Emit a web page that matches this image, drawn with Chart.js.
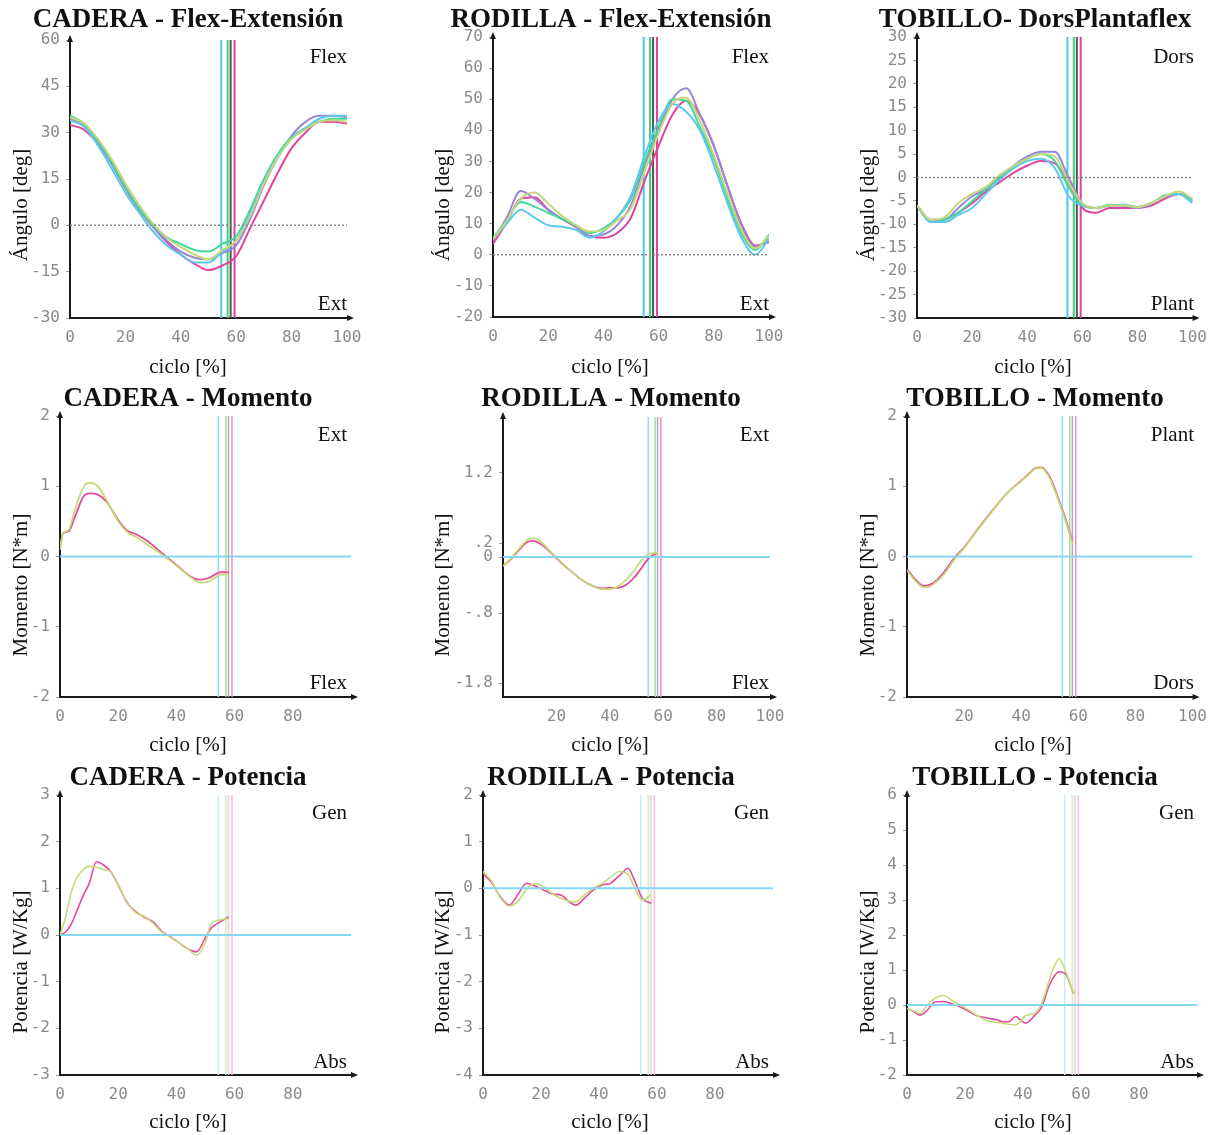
<!DOCTYPE html>
<html>
<head>
<meta charset="utf-8">
<script src="https://cdn.jsdelivr.net/npm/chart.js@4.4.0/dist/chart.umd.min.js"></script>
<style>
html, body { margin: 0; padding: 0; background: #fff; }
body { width: 1217px; height: 1135px; position: relative; overflow: hidden; }
.cell { position: absolute; }
</style>
</head>
<body>
<script>
// ciclo de marcha [%] para la fila de ángulos
const cycle = [0,5,10,15,20,25,30,35,40,45,50,55,60,65,70,75,80,85,90,95,100];

// CADERA - Flex-Extensión (5 ensayos)
const hipAngCyan    = [34,32,26,18.5,10.5,4,-2,-6.5,-9.5,-12,-12,-8.5,-5,4,14,22,28,31.5,34.5,35.5,35.5];
const hipAngPurple  = [34.5,32.5,27,20,12,5,-0.5,-5,-8.5,-10.5,-11,-9,-6.5,2,13,22,29,33.5,35.5,35.5,35];
const hipAngYellow  = [35,33,28,21.5,13.5,6.5,0.5,-4,-7,-9.5,-11,-8,-5,3,13.5,22,28,31,33.5,34,33.5];
const hipAngGreen   = [35.5,33,27.5,20.5,12.5,5.5,0,-4,-6,-8,-8.5,-6,-3.5,5,15,23,28.5,31.5,33.5,34.5,34.5];
const hipAngMagenta = [32.5,31,26.5,20,12,5,-0.5,-5.5,-9.5,-12.5,-14.5,-13,-10,-1,8,17,25,30,33.5,33.5,33];

// RODILLA - Flex-Extensión
const kneeAngCyan    = [5,10,14.5,12,9.5,9,8,5.5,7.5,12,19,32,43,48.5,46,40,29,16.5,5.5,0,5];
const kneeAngPurple  = [4.5,12,20.5,18,14.5,11.5,9,6,6.5,9.5,16,29,40,50,53.5,45,35,22,9.5,2.5,5];
const kneeAngYellow  = [5,11,18,20,16.5,12.5,9.5,7.5,8,11,15,27,39,48.5,50.5,43,32,19.5,8,2,6];
const kneeAngGreen   = [5.5,11,17,15.5,13.5,11.5,9.5,7,8.5,12,18,30,41,50,49.5,41,31,18,7,1.5,6.5];
const kneeAngMagenta = [3.5,10.5,18,18.5,14.5,11.5,9,6,5.5,7,12,24,35,45,49.5,45,35,22,10,3,4];

// TOBILLO - DorsPlantaflex
const ankleAngCyan    = [-6,-9.5,-9.5,-8,-6.5,-3.5,-0.5,2,3.5,4,2,-4,-6,-6.5,-6,-5.8,-6.3,-5.5,-4,-3.5,-5.5];
const ankleAngPurple  = [-6,-9,-9,-6.5,-4,-2.5,0,2.5,4.5,5.5,5.5,0,-5.5,-6.5,-6,-6,-6.5,-5.5,-4,-3.5,-5];
const ankleAngYellow  = [-6,-9,-8.5,-5.5,-3.5,-2,0.5,2.5,4,5,4.5,-1,-5.5,-6.5,-6,-6,-6.3,-5.5,-4,-3,-4.5];
const ankleAngGreen   = [-6,-9.5,-9,-7.5,-5,-2.5,0,2,4,5,3.5,-2,-6,-6.5,-5.8,-6,-6.3,-5.5,-3.8,-3.5,-5];
const ankleAngMagenta = [-6,-9.5,-9,-7.5,-5.5,-3,-1,1,2.5,3.5,3,-1,-6.5,-7.5,-6.5,-6.5,-6.5,-6,-4.5,-3.5,-4.5];

// Momentos
const hipMomX       = [0,1,3,5,8,10,13,16,20,23,26,30,35,40,45,48,51,54,56,58];
const hipMomYellow  = [0.1,0.33,0.38,0.65,0.98,1.05,1.0,0.8,0.5,0.35,0.28,0.17,0.03,-0.13,-0.3,-0.37,-0.36,-0.28,-0.25,-0.25];
const hipMomMagenta = [0.1,0.33,0.36,0.55,0.85,0.9,0.88,0.78,0.52,0.37,0.32,0.22,0.05,-0.12,-0.29,-0.33,-0.31,-0.24,-0.22,-0.23];

const kneeMomX       = [0,3,6,9,11,13,16,19,22,26,30,34,37,40,43,46,49,52,55,58];
const kneeMomYellow  = [-0.13,-0.02,0.12,0.24,0.27,0.25,0.15,0.03,-0.08,-0.22,-0.34,-0.42,-0.46,-0.46,-0.42,-0.33,-0.2,-0.04,0.05,0.06];
const kneeMomMagenta = [-0.13,-0.03,0.1,0.21,0.23,0.21,0.13,0.02,-0.09,-0.22,-0.34,-0.42,-0.45,-0.44,-0.44,-0.4,-0.3,-0.15,0.0,0.06];

const ankleMomX       = [0,3,6,8,10,13,17,20,25,30,35,40,43,45,47,49,51,53,55,58];
const ankleMomYellow  = [-0.2,-0.35,-0.44,-0.43,-0.37,-0.25,-0.02,0.12,0.39,0.65,0.9,1.07,1.18,1.25,1.26,1.18,1.02,0.8,0.57,0.18];
const ankleMomMagenta = [-0.18,-0.33,-0.42,-0.4,-0.35,-0.22,0.0,0.13,0.4,0.66,0.9,1.08,1.19,1.26,1.27,1.2,1.05,0.82,0.6,0.2];

// Potencias
const hipPowX       = [0,2,4,6,8,10,12.5,15,17.5,20,23,26,29,32,35,38,41,44,47,50,52,55,58];
const hipPowYellow  = [0,0.4,0.95,1.25,1.4,1.47,1.45,1.4,1.35,1.07,0.72,0.48,0.4,0.25,0.06,-0.05,-0.17,-0.3,-0.43,-0.15,0.25,0.32,0.36];
const hipPowMagenta = [0,0.07,0.25,0.55,0.85,1.1,1.57,1.5,1.35,1.07,0.7,0.5,0.38,0.28,0.08,-0.04,-0.17,-0.3,-0.36,-0.05,0.15,0.28,0.39];

const kneePowX       = [0,3,6,9,12,15,18,21,24,27,30,32,35,38,41,44,47,50,52,55,58];
const kneePowYellow  = [0.36,0.15,-0.2,-0.38,-0.28,-0.02,0.1,0.03,-0.12,-0.22,-0.28,-0.29,-0.14,0.0,0.1,0.24,0.36,0.3,0.05,-0.25,-0.14];
const kneePowMagenta = [0.32,0.12,-0.18,-0.36,-0.14,0.11,0.05,-0.04,-0.12,-0.15,-0.3,-0.36,-0.21,-0.04,0.07,0.11,0.27,0.43,0.21,-0.22,-0.32];

const anklePowX       = [0,2.5,4.5,7,9.5,12.5,16,19.5,24,28,31,33,35,37.5,39,41,44,46.5,49,51,52.5,54.5,57.5];
const anklePowYellow  = [-0.1,-0.18,-0.24,0.0,0.18,0.27,0.1,-0.05,-0.29,-0.46,-0.5,-0.52,-0.55,-0.57,-0.48,-0.3,-0.24,0.05,0.7,1.15,1.33,1.0,0.32];
const anklePowMagenta = [-0.1,-0.2,-0.29,-0.15,0.08,0.1,0.02,-0.1,-0.3,-0.38,-0.42,-0.48,-0.48,-0.33,-0.42,-0.52,-0.3,-0.05,0.55,0.85,0.95,0.9,0.32];

// despegue del pie (toe-off) [%]
const toeOffAngles = [54.6, 56.9, 58.0, 59.4];
const toeOffKinetics = [54.4, 57.0, 57.9, 59.1];

// ticks
const xTicksFull = [0,20,40,60,80,100];
const xTicksNo100 = [0,20,40,60,80];
const xTicksNo0 = [20,40,60,80,100];
const hipAngTicks = [-30,-15,0,15,30,45,60];
const kneeAngTicks = [-20,-10,0,10,20,30,40,50,60,70];
const ankleAngTicks = [-30,-25,-20,-15,-10,-5,0,5,10,15,20,25,30];
const momTicks = [-2,-1,0,1,2];
const kneeMomTicks = [1.2,0.2,0,-0.8,-1.8];
const kneeMomTickLabels = ['1.2','.2','0','-.8','-1.8'];
const hipPowTicks = [-3,-2,-1,0,1,2,3];
const kneePowTicks = [-4,-3,-2,-1,0,1,2];
const anklePowTicks = [-2,-1,0,1,2,3,4,5,6];

// ---- layout ----
const CELL_X = [[0,420],[420,845],[845,1217]];
const CELL_Y = [[0,380],[380,758],[758,1135]];
const TITLE_X = [188,611,1035], YTITLE_X = [21,443,868], XTITLE_X = [188,610,1033], CORNER_X = [347,769,1194];
const TITLE_Y = [20,399,778], YTITLE_Y = [205,585,962], XTITLE_Y = [367,745,1122], TOP_Y = [57,435,813], BOT_Y = [304,683,1062];
const PLOT = [[70,40,347,318],[493,37,769,317],[917,37,1196,318],
              [60,416,351,697],[503,417,770,697],[907,416,1194,697],
              [60,795,351,1075],[483,795,773,1075],[907,795,1197,1075]];

const C = {cyan:'#5cc8ee', purple:'#9a86d6', yellow:'#c6d67a', green:'#3fd99c', magenta:'#e2449c'};
const K = {yellow:'#c4dc78', magenta:'#e6479e'};

const angSeries = (a,b,c,d,e) => [
  {xs:cycle, ys:c, color:C.yellow}, {xs:cycle, ys:a, color:C.cyan},
  {xs:cycle, ys:d, color:C.green}, {xs:cycle, ys:b, color:C.purple},
  {xs:cycle, ys:e, color:C.magenta}];
const kinSeries = (xs, y, m) => [{xs, ys:y, color:K.yellow}, {xs, ys:m, color:K.magenta}];

const panels = [
  {title:'CADERA - Flex-Extensión', yTitle:'Ángulo [deg]', top:'Flex', bot:'Ext', min:-30, max:60, yTicks:hipAngTicks, xTicks:xTicksFull,
   curves: angSeries(hipAngCyan,hipAngPurple,hipAngYellow,hipAngGreen,hipAngMagenta)},
  {title:'RODILLA - Flex-Extensión', yTitle:'Ángulo [deg]', top:'Flex', bot:'Ext', min:-20, max:70, yTicks:kneeAngTicks, xTicks:xTicksFull,
   curves: angSeries(kneeAngCyan,kneeAngPurple,kneeAngYellow,kneeAngGreen,kneeAngMagenta)},
  {title:'TOBILLO- DorsPlantaflex', yTitle:'Ángulo [deg]', top:'Dors', bot:'Plant', min:-30, max:30, yTicks:ankleAngTicks, xTicks:xTicksFull,
   curves: angSeries(ankleAngCyan,ankleAngPurple,ankleAngYellow,ankleAngGreen,ankleAngMagenta)},
  {title:'CADERA - Momento', yTitle:'Momento [N*m]', top:'Ext', bot:'Flex', min:-2, max:2, yTicks:momTicks, xTicks:xTicksNo100,
   curves: kinSeries(hipMomX, hipMomYellow, hipMomMagenta)},
  {title:'RODILLA - Momento', yTitle:'Momento [N*m]', top:'Ext', bot:'Flex', min:-2, max:2, yTicks:kneeMomTicks, yLabels:kneeMomTickLabels, xTicks:xTicksNo0,
   curves: kinSeries(kneeMomX, kneeMomYellow, kneeMomMagenta)},
  {title:'TOBILLO - Momento', yTitle:'Momento [N*m]', top:'Plant', bot:'Dors', min:-2, max:2, yTicks:momTicks, xTicks:xTicksNo0,
   curves: kinSeries(ankleMomX, ankleMomYellow, ankleMomMagenta)},
  {title:'CADERA - Potencia', yTitle:'Potencia [W/Kg]', top:'Gen', bot:'Abs', min:-3, max:3, yTicks:hipPowTicks, xTicks:xTicksNo100,
   curves: kinSeries(hipPowX, hipPowYellow, hipPowMagenta)},
  {title:'RODILLA - Potencia', yTitle:'Potencia [W/Kg]', top:'Gen', bot:'Abs', min:-4, max:2, yTicks:kneePowTicks, xTicks:xTicksNo100,
   curves: kinSeries(kneePowX, kneePowYellow, kneePowMagenta)},
  {title:'TOBILLO - Potencia', yTitle:'Potencia [W/Kg]', top:'Gen', bot:'Abs', min:-2, max:6, yTicks:anklePowTicks, xTicks:xTicksNo100,
   curves: kinSeries(anklePowX, anklePowYellow, anklePowMagenta)}
];

// style per row: toe-off lines and zero line
const ROW_STYLE = [
  {toe:toeOffAngles, toeColors:['#4fc7ee','#3ccf8a','#4d5a50','#e0409a'], toeW:2, zero:'#8a8a8a', zeroW:1.5, zeroDash:[2,2], lw:2},
  {toe:toeOffKinetics, toeColors:['#8fdcf4','#9ee0a0','#b8a6b4','#f08cc0'], toeW:1.5, zero:'#86d6f2', zeroW:2, zeroDash:[], lw:1.8},
  {toe:toeOffKinetics, toeColors:['#c6eefa','#cdeec6','#e8d0dc','#f6bcd8'], toeW:1.5, zero:'#86d6f2', zeroW:2, zeroDash:[], lw:1.6}
];

const decor = {
  id: 'decor',
  afterDraw(chart, args, o) {
    const ctx = chart.ctx;
    const {left, top, right, bottom} = chart.chartArea;
    ctx.save();
    // arrow heads
    ctx.fillStyle = '#1a1a1a';
    ctx.beginPath(); ctx.moveTo(left, top - 5); ctx.lineTo(left - 3, top + 2); ctx.lineTo(left + 3, top + 2); ctx.fill();
    ctx.beginPath(); ctx.moveTo(right + 7, bottom); ctx.lineTo(right, bottom - 3); ctx.lineTo(right, bottom + 3); ctx.fill();
    ctx.fillStyle = '#111';
    ctx.textBaseline = 'middle';
    ctx.font = 'bold 27px "Liberation Serif", serif';
    ctx.textAlign = 'center';
    ctx.fillText(o.title, o.titleX, o.titleY);
    ctx.font = '21px "Liberation Serif", serif';
    ctx.fillText(o.xTitle, o.xTitleX, o.xTitleY);
    ctx.textAlign = 'right';
    ctx.fillText(o.top, o.cornerX, o.topY);
    ctx.fillText(o.bot, o.cornerX, o.botY);
    ctx.translate(o.yTitleX, o.yTitleY);
    ctx.rotate(-Math.PI / 2);
    ctx.textAlign = 'center';
    ctx.fillText(o.yTitle, 0, 0);
    ctx.restore();
  }
};

panels.forEach((p, i) => {
  const col = i % 3, row = Math.floor(i / 3);
  const [cx0, cx1] = CELL_X[col], [cy0, cy1] = CELL_Y[row];
  const [pl, pt, pr, pb] = PLOT[i];
  const st = ROW_STYLE[row];

  const div = document.createElement('div');
  div.className = 'cell';
  Object.assign(div.style, {left: cx0 + 'px', top: cy0 + 'px', width: (cx1 - cx0) + 'px', height: (cy1 - cy0) + 'px'});
  const cv = document.createElement('canvas');
  div.appendChild(cv);
  document.body.appendChild(div);

  const datasets = [];
  datasets.push({data: [{x:0, y:0}, {x:100, y:0}], borderColor: st.zero, borderWidth: st.zeroW, borderDash: st.zeroDash});
  p.curves.forEach(c => datasets.push({
    data: c.xs.map((x, k) => ({x, y: c.ys[k]})),
    borderColor: c.color, borderWidth: st.lw, cubicInterpolationMode: 'monotone'
  }));
  st.toe.forEach((v, k) => datasets.push({
    data: [{x:v, y:p.min}, {x:v, y:p.max}], borderColor: st.toeColors[k], borderWidth: st.toeW
  }));

  const tickFont = {family: '"DejaVu Sans Mono", monospace', size: 16};
  new Chart(cv, {
    type: 'line',
    data: {datasets},
    plugins: [decor],
    options: {
      responsive: true,
      maintainAspectRatio: false,
      animation: false,
      elements: {point: {radius: 0}, line: {fill: false}},
      layout: {padding: {left: 0, top: pt - cy0, right: cx1 - pr, bottom: 0}},
      plugins: {
        legend: {display: false},
        tooltip: {enabled: false},
        decor: {
          title: p.title, titleX: TITLE_X[col] - cx0, titleY: TITLE_Y[row] - cy0,
          xTitle: 'ciclo [%]', xTitleX: XTITLE_X[col] - cx0, xTitleY: XTITLE_Y[row] - cy0,
          yTitle: p.yTitle, yTitleX: YTITLE_X[col] - cx0, yTitleY: YTITLE_Y[row] - cy0,
          top: p.top, bot: p.bot, cornerX: CORNER_X[col] - cx0, topY: TOP_Y[row] - cy0, botY: BOT_Y[row] - cy0
        }
      },
      scales: {
        x: {
          type: 'linear', min: 0, max: 100,
          afterFit: s => { s.height = cy1 - pb; },
          afterBuildTicks: s => { s.ticks = p.xTicks.map(v => ({value: v})); },
          grid: {display: true, drawOnChartArea: false, drawTicks: false},
          border: {display: true, color: '#1a1a1a', width: 2},
          ticks: {autoSkip: false, maxRotation: 0, padding: 10, color: '#8a8a8a', font: tickFont}
        },
        y: {
          type: 'linear', min: p.min, max: p.max,
          afterFit: s => { s.width = pl - cx0; },
          afterBuildTicks: s => { s.ticks = p.yTicks.map(v => ({value: v})); },
          grid: {display: true, drawOnChartArea: false, drawTicks: true, tickLength: 4, color: '#9a9a9a'},
          border: {display: true, color: '#1a1a1a', width: 2},
          ticks: {
            autoSkip: false, padding: 6, color: '#8a8a8a', font: tickFont,
            callback: v => p.yLabels ? p.yLabels[p.yTicks.indexOf(v)] : String(v)
          }
        }
      }
    }
  });
});
</script>
</body>
</html>
